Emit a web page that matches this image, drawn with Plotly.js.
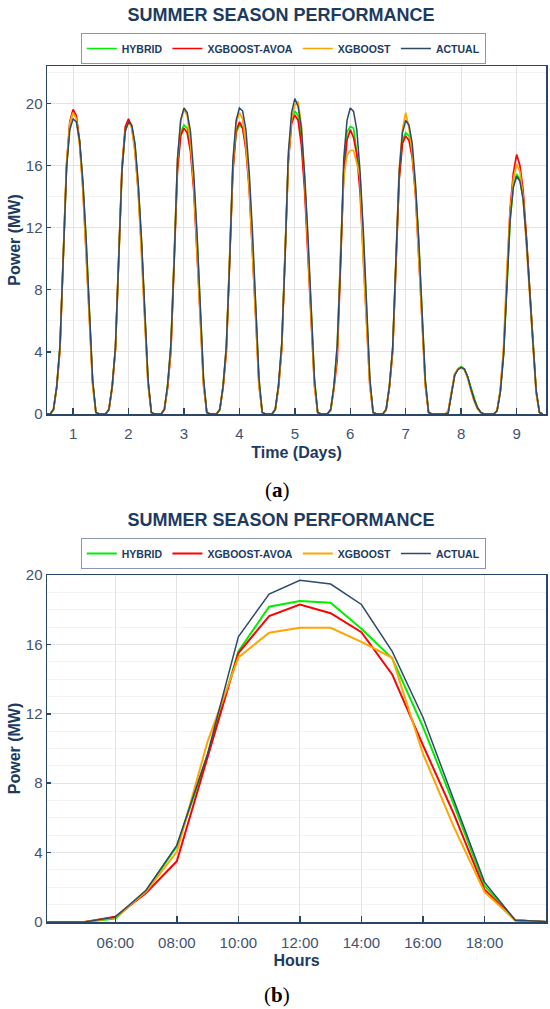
<!DOCTYPE html>
<html>
<head>
<meta charset="utf-8">
<script src="https://cdn.plot.ly/plotly-3.0.1.min.js"></script>
<style>
  html, body { margin: 0; padding: 0; background: #fff; }
  #a, #b { width: 550px; }
  #a { height: 505px; }
  #b { height: 504px; }
</style>
</head>
<body>
<div id="a"></div>
<div id="b"></div>
<script>
// ---------------- DATA ----------------
const seriesNames = ['HYBRID', 'XGBOOST-AVOA', 'XGBOOST', 'ACTUAL'];
const dayNumbers = [1, 2, 3, 4, 5, 6, 7, 8, 9];
const dayHours = [4, 5, 6, 7, 8, 9, 10, 11, 12, 13, 14, 15, 16, 17, 18, 19, 20];
const dayTicks = [1, 2, 3, 4, 5, 6, 7, 8, 9];

// (a) nine-day hourly power, MW (hours 04:00 .. 20:00 for each day)
const hybridDays = [
  [0,0,0.25,1.8,4.4,9.6,15.9,18.7,19.5,19.1,17.6,14.9,11.2,6.6,2.1,0.1,0],
  [0,0,0.25,1.8,4.3,9.5,15.6,18.3,18.9,18.5,17.2,14.6,11.0,6.5,2.1,0.1,0],
  [0,0,0.25,1.8,4.4,9.6,15.8,18.1,18.6,18.4,17.2,14.9,11.3,6.8,2.2,0.1,0],
  [0,0,0.25,1.8,4.3,9.6,15.7,18.1,18.6,18.4,17.3,15.0,11.3,6.8,2.2,0.1,0],
  [0,0,0.25,1.8,4.5,9.9,16.3,18.9,19.5,19.2,17.8,15.0,11.2,6.7,2.2,0.1,0],
  [0,0,0.2,1.8,4.37,9.6,15.6,18.17,18.5,18.4,16.9,15.2,11.25,6.8,2.1,0.1,0],
  [0,0,0.25,1.8,4.2,9.3,15.2,17.6,18.1,17.9,16.8,14.5,11.0,6.5,2.1,0.1,0],
  [0,0,0,0,0.05,1.3,2.5,2.9,3.05,2.9,2.4,1.7,1.0,0.4,0.1,0,0],
  [0,0,0.2,1.4,3.8,8.1,12.4,14.7,15.45,15.1,13.9,11.3,8.2,4.6,1.5,0.1,0]
];
const avoaDays = [
  [0,0,0.3,1.7,4.2,9.6,16.0,18.8,19.6,19.2,17.5,14.6,10.8,6.3,2.0,0.1,0],
  [0,0,0.3,1.7,4.2,9.7,15.9,18.5,19.0,18.5,17.0,14.3,10.7,6.2,2.0,0.1,0],
  [0,0,0.3,1.7,4.0,9.5,15.6,17.9,18.4,18.1,16.9,14.4,10.6,6.3,1.9,0.1,0],
  [0,0,0.3,1.7,4.0,9.5,15.6,18.2,18.8,18.4,17.0,14.5,10.6,6.3,1.9,0.1,0],
  [0,0,0.3,1.7,4.2,9.8,16.2,18.7,19.25,18.9,17.3,14.4,10.5,6.2,1.9,0.1,0],
  [0,0,0.3,1.67,3.5,9.5,15.5,17.63,18.3,17.8,16.7,14.27,10.2,6.25,1.87,0.1,0],
  [0,0,0.3,1.7,4.0,9.3,15.1,17.4,17.9,17.6,16.5,14.1,10.4,6.1,1.9,0.1,0],
  [0,0,0,0,0.1,1.4,2.5,2.9,3.0,2.85,2.35,1.6,0.9,0.4,0.1,0,0],
  [0,0,0.2,1.5,4.0,8.6,13.2,15.5,16.7,16.0,14.4,11.4,8.0,4.3,1.4,0.1,0]
];
const xgbDays = [
  [0,0,0.3,1.8,4.2,10.2,16.2,18.7,19.4,19.0,17.3,14.5,10.5,6.0,1.8,0.1,0],
  [0,0,0.3,1.8,4.1,10.1,15.8,18.2,18.8,18.4,16.8,14.2,10.3,5.9,1.8,0.1,0],
  [0,0,0.3,1.8,4.2,10.3,16.2,18.9,19.6,19.2,17.4,14.8,10.6,6.0,1.8,0.1,0],
  [0,0,0.3,1.8,4.2,10.3,16.0,18.7,19.4,19.0,17.3,14.7,10.5,6.0,1.8,0.1,0],
  [0,0,0.3,1.8,4.3,10.4,16.3,19.0,19.9,20.1,18.6,15.2,10.8,6.1,1.8,0.1,0],
  [0,0,0.25,1.75,4.04,10.4,15.25,16.67,16.96,16.96,16.15,15.23,9.7,5.5,1.73,0.1,0],
  [0,0,0.3,1.8,4.1,10.0,15.8,18.3,19.4,18.4,16.8,14.2,10.2,5.8,1.8,0.1,0],
  [0,0,0,0,0.2,1.5,2.6,2.9,3.0,2.85,2.3,1.5,0.8,0.3,0.1,0,0],
  [0,0,0.2,1.6,4.3,9.3,13.0,15.1,16.1,15.6,14.0,10.9,7.6,4.0,1.3,0.1,0]
];
const actualDays = [
  [0,0,0.3,1.8,4.4,9.6,15.8,18.3,19.0,18.8,17.6,15.0,11.3,6.7,2.2,0.1,0],
  [0,0,0.3,1.8,4.3,9.5,15.7,18.2,18.8,18.6,17.4,14.8,11.2,6.6,2.2,0.1,0],
  [0,0,0.3,1.9,4.5,9.8,16.4,18.9,19.7,19.4,18.2,15.5,11.7,7.0,2.3,0.1,0],
  [0,0,0.3,1.8,4.4,9.7,16.3,18.9,19.7,19.5,18.3,15.6,11.8,7.0,2.3,0.1,0],
  [0,0,0.3,1.9,4.6,10.0,16.8,19.4,20.3,19.8,18.4,15.4,11.6,6.9,2.3,0.1,0],
  [0,0,0.29,1.83,4.42,9.7,16.44,18.9,19.7,19.48,18.3,15.6,11.8,7.0,2.3,0.1,0],
  [0,0,0.3,1.8,4.3,9.4,15.6,18.1,18.9,18.6,17.4,14.8,11.2,6.6,2.2,0.1,0],
  [0,0,0,0,0.05,1.2,2.5,2.85,3.0,2.9,2.4,1.6,0.9,0.4,0.1,0,0],
  [0,0,0.2,1.4,3.8,8.2,12.5,14.6,15.3,15.0,13.8,11.2,8.2,4.6,1.5,0.1,0]
];

// (b) one summer day, hourly, MW
const hours = [3, 4, 5, 6, 7, 8, 9, 10, 11, 12, 13, 14, 15, 16, 17, 18, 19, 20];
const hybridDay = [0,0,0,0.2,1.8,4.37,9.6,15.6,18.17,18.5,18.4,16.9,15.2,11.25,6.8,2.1,0.1,0];
const avoaDay   = [0,0,0,0.3,1.67,3.5,9.5,15.5,17.63,18.3,17.8,16.7,14.27,10.2,6.25,1.87,0.1,0];
const xgbDay    = [0,0,0,0.25,1.75,4.04,10.4,15.25,16.67,16.96,16.96,16.15,15.23,9.7,5.5,1.73,0.1,0];
const actualDay = [0,0,0,0.29,1.83,4.42,9.7,16.44,18.9,19.7,19.48,18.3,15.6,11.8,7.0,2.3,0.1,0.03];
const hourTickVals = [6, 8, 10, 12, 14, 16, 18];
const hourTickText = ['06:00', '08:00', '10:00', '12:00', '14:00', '16:00', '18:00'];

// ---------------- STYLE ----------------
const colors = ['#00ee00', '#ff0000', '#ffa500', '#2e4a68'];
const navy = '#1d3a5f';
const tickCol = '#3e5272';
const FONT = 'Liberation Sans, Arial, sans-serif';

function flatten(days) {
  const xs = [], ys = [];
  dayNumbers.forEach((d, i) => {
    dayHours.forEach((h, j) => {
      xs.push(d + (h - 12) / dayHours.length);
      ys.push(days[i][j]);
    });
  });
  return {x: xs, y: ys};
}

const topSets = [hybridDays, avoaDays, xgbDays, actualDays];
const topTraces = topSets.map((s, k) => {
  const f = flatten(s);
  return {x: f.x, y: f.y, type: 'scatter', mode: 'lines', name: seriesNames[k],
          line: {color: colors[k], width: k === 3 ? 1.5 : 1.7}};
});

const botSets = [hybridDay, avoaDay, xgbDay, actualDay];
const botTraces = botSets.map((s, k) => ({
  x: hours, y: s, type: 'scatter', mode: 'lines', name: seriesNames[k],
  line: {color: colors[k], width: k === 3 ? 1.5 : 2}
}));

function baseLayout(h, plotTop, plotBottom, yMax, caption, captionY) {
  const plotH = plotBottom - plotTop;
  return {
    width: 550, height: h,
    margin: {l: 47, r: 4, t: plotTop, b: h - plotBottom, pad: 0},
    paper_bgcolor: '#fff', plot_bgcolor: '#fff',
    font: {family: FONT, color: tickCol},
    showlegend: true,
    title: {text: '<b>SUMMER SEASON PERFORMANCE</b>', font: {family: FONT, size: 18, color: navy},
            x: 0.511, xref: 'container', xanchor: 'center',
            y: 1 - 15 / h, yref: 'container', yanchor: 'middle'},
    legend: {orientation: 'h', x: 0.515, xref: 'container', xanchor: 'center',
             y: 1 - 33 / h, yref: 'container', yanchor: 'top',
             bordercolor: '#8a97ad', borderwidth: 1, bgcolor: '#fff',
             font: {family: FONT, size: 10.5, color: navy, weight: 'bold'},
             itemwidth: 30, tracegroupgap: 0},
    yaxis: {range: [0, yMax], dtick: 4, tick0: 0,
            showgrid: true, gridcolor: '#e3e3e3', gridwidth: 1,
            minor: {dtick: yMax > 21 ? 2 : 1, showgrid: true, gridcolor: '#f3f3f3', ticks: ''},
            showline: true, mirror: true, linecolor: '#2b4566', linewidth: 1.5,
            ticks: 'inside', ticklen: 4, tickwidth: 1.5, tickcolor: '#2b4566',
            tickfont: {family: FONT, size: 15, color: tickCol},
            zeroline: false,
            title: {text: '<b>Power (MW)</b>', font: {family: FONT, size: 16, color: navy}, standoff: 1}},
    annotations: [{text: caption, xref: 'paper', yref: 'paper', x: (277 - 47) / 499,
                   y: -(captionY - plotBottom) / plotH, xanchor: 'center', yanchor: 'middle',
                   showarrow: false, font: {family: 'Liberation Serif, Times New Roman, serif', size: 21, color: '#000'}}]
  };
}

// (a)
const layA = baseLayout(505, 66, 414, 22.4, '(<b>a</b>)', 490);
layA.xaxis = {range: [0.53, 9.53], tickvals: dayTicks, ticktext: dayTicks.map(String),
  showgrid: true, gridcolor: '#e3e3e3', gridwidth: 1,
  showline: true, mirror: true, linecolor: '#2b4566', linewidth: 1.5,
  ticks: 'inside', ticklen: 6, tickwidth: 1.5, tickcolor: '#2b4566',
  ticklabelstandoff: 5,
  tickfont: {family: FONT, size: 15, color: tickCol}, zeroline: false,
  title: {text: '<b>Time (Days)</b>', font: {family: FONT, size: 16, color: navy}, standoff: 6}};
Plotly.newPlot('a', topTraces, layA, {displayModeBar: false, staticPlot: true});

// (b)
const layB = baseLayout(504, 70, 417, 20, '(<b>b</b>)', 490);
layB.xaxis = {range: [3.78, 20], tickvals: hourTickVals, ticktext: hourTickText,
  showgrid: true, gridcolor: '#e3e3e3', gridwidth: 1,
  showline: true, mirror: true, linecolor: '#2b4566', linewidth: 1.5,
  ticks: 'inside', ticklen: 6, tickwidth: 1.5, tickcolor: '#2b4566',
  ticklabelstandoff: 6,
  tickfont: {family: FONT, size: 15, color: tickCol}, zeroline: false,
  title: {text: '<b>Hours</b>', font: {family: FONT, size: 16, color: navy}, standoff: 5}};
Plotly.newPlot('b', botTraces, layB, {displayModeBar: false, staticPlot: true});
</script>
</body>
</html>
